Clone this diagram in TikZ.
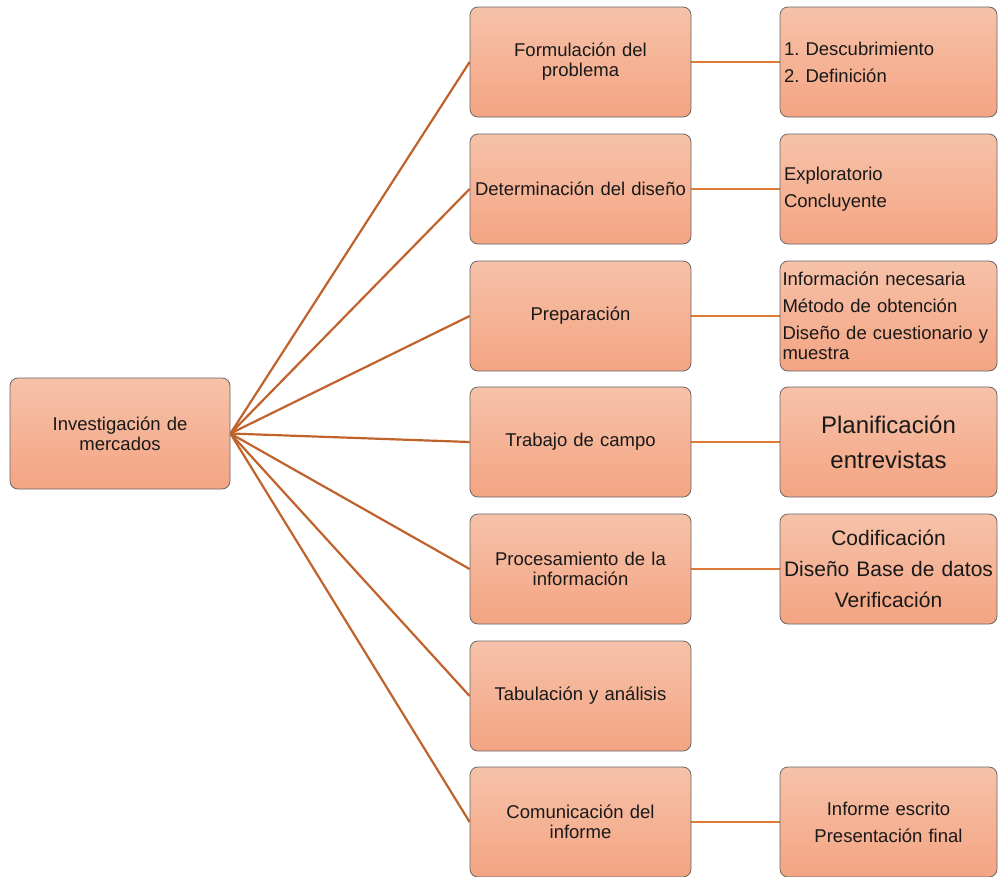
\documentclass[tikz,border=0pt]{standalone}
\usepackage{fontspec}
\setmainfont{Liberation Sans}
\usetikzlibrary{backgrounds}
\frenchspacing

\definecolor{boxtop}{HTML}{F6C2A9}
\definecolor{boxbottom}{HTML}{F4A482}
\definecolor{boxedge}{HTML}{666666}
\definecolor{branch}{HTML}{C0622B}
\definecolor{detail}{HTML}{E07A38}

\tikzset{
  card/.style={rectangle, rounded corners=8pt, draw=boxedge, line width=0.8pt,
    top color=boxtop, bottom color=boxbottom, minimum height=110pt,
    inner sep=4pt, text=black!90, font=\fontsize{18.5}{20}\selectfont},
  stage/.style={card, minimum width=221pt, text width=213pt, align=center},
  item/.style={card, minimum width=217pt, text width=209pt},
  branchline/.style={draw=branch, line width=2.2pt},
  detailline/.style={draw=detail, line width=2.8pt},
}

\begin{document}
\begin{tikzpicture}[x=1pt,y=-1pt]
\useasboundingbox (0,0) rectangle (998,876);

% root of the tree
\node[card, minimum width=220pt, minimum height=111pt, text width=212pt, align=center]
  (root) at (120,433.5) {Investigación de\\mercados};

% stages of the research
\node[stage] (m1) at (580.5,62)  {Formulación del\\problema};
\node[stage] (m2) at (580.5,189) {Determinación del diseño};
\node[stage] (m3) at (580.5,316) {Preparación};
\node[stage] (m4) at (580.5,442) {Trabajo de campo};
\node[stage] (m5) at (580.5,569) {Procesamiento de la\\información};
\node[stage] (m6) at (580.5,696) {Tabulación y análisis};
\node[stage] (m7) at (580.5,822) {Comunicación del\\informe};

% details of each stage
\node[item, align=left, font=\fontsize{18.5}{27}\selectfont]
  (r1) at (888.5,62) {1. Descubrimiento\\2. Definición};
\node[item, align=left, font=\fontsize{18.5}{27}\selectfont]
  (r2) at (888.5,189) {Exploratorio\\Concluyente};
\node[item, text width=212pt, inner xsep=2.5pt, align=left,
  font=\fontsize{18.5}{19.5}\selectfont]
  (r3) at (888.5,316) {Información necesaria\\[7.5pt]Método de obtención\\[7.5pt]\makebox[\linewidth][s]{Diseño de cuestionario y}\\muestra};
\node[item, align=center, font=\fontsize{24}{35}\selectfont]
  (r4) at (888.5,442) {Planificación\\entrevistas};
\node[item, align=center, font=\fontsize{21}{31}\selectfont]
  (r5) at (888.5,569) {Codificación\\Diseño Base de datos\\Verificación};
\node[item, align=center, font=\fontsize{18.5}{27}\selectfont]
  (r7) at (888.5,822) {Informe escrito\\Presentación final};

% connectors
\begin{scope}[on background layer]
\foreach \m in {m1,m2,m3,m4,m5,m6,m7}
  \draw[branchline] (root.east) -- (\m.west);
\draw[detailline] (m1.east) -- (r1.west);
\draw[detailline] (m2.east) -- (r2.west);
\draw[detailline] (m3.east) -- (r3.west);
\draw[detailline] (m4.east) -- (r4.west);
\draw[detailline] (m5.east) -- (r5.west);
\draw[detailline] (m7.east) -- (r7.west);
\end{scope}
\end{tikzpicture}
\end{document}
